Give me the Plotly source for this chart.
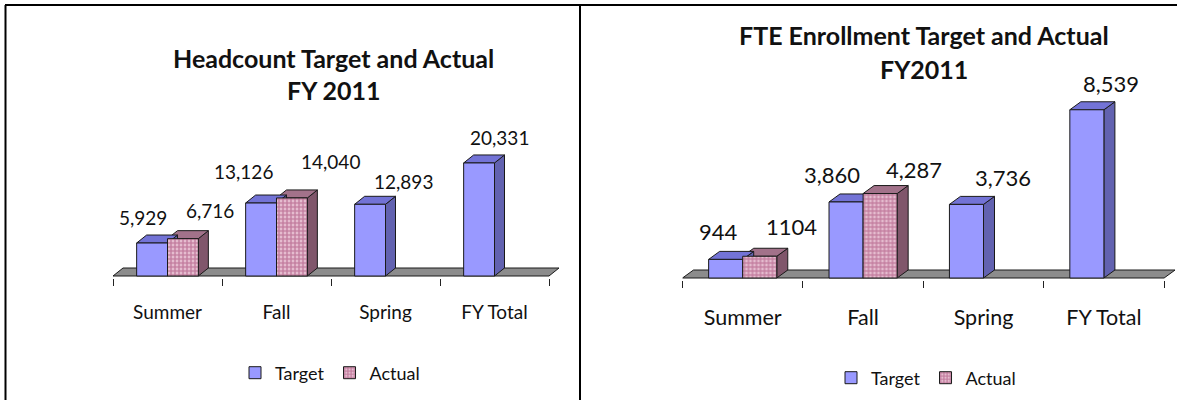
import plotly.graph_objects as go

# ---------------- data ----------------
categories = ["Summer", "Fall", "Spring", "FY Total"]
headcount_target = [5929, 13126, 12893, 20331]
headcount_actual = [6716, 14040, None, None]
fte_target = [944, 3860, 3736, 8539]
fte_actual = [1104, 4287, None, None]
headcount_target_text = ["5,929", "13,126", "12,893", "20,331"]
headcount_actual_text = ["6,716", "14,040", "", ""]
fte_target_text = ["944", "3,860", "3,736", "8,539"]
fte_actual_text = ["1104", "4,287", "", ""]

# ---------------- styling / layout ----------------
W, H = 1177, 400
FONT = "Lato"
BW = 0.283  # bar width in category units
T_FRONT, T_TOP, T_SIDE = "#9999FF", "#7373D6", "#6262B0"
A_FG, A_BG, A_TOP, A_SIDE = "#993366", "#F2D3E1", "#A2728A", "#80566B"
EDGE = "#1a1a1a"

panels = [
    dict(ax="", left=113, cat_w=109, base=276, ymax=25000, pxy=0.00556,
         dxp=10, dyp=8, target=headcount_target, actual=headcount_actual,
         ttext=headcount_target_text, atext=headcount_actual_text,
         tshift=[(-9.5, 26), (-17.5, 32), (33.5, 23), (20, 25)],
         ashift=[(27.5, 28), (38.5, 36), (0, 0), (0, 0)],
         title1="Headcount Target and Actual", title2="FY 2011",
         title_x=333, title_y=(58, 90), title_size=25,
         label_size=19, cat_size=19, ticklen=17,
         legend="legend", legend_x=330, legend_y=373),
    dict(ax="2", left=682.5, cat_w=120.4, base=278, ymax=10000, pxy=0.0197,
         dxp=11, dyp=8, target=fte_target, actual=fte_actual,
         ttext=fte_target_text, atext=fte_actual_text,
         tshift=[(-7.5, 28), (-13.8, 27), (37, 27), (24, 26)],
         ashift=[(32, 30), (33.6, 24), (0, 0), (0, 0)],
         title1="FTE Enrollment Target and Actual", title2="FY2011",
         title_x=924, title_y=(35, 69), title_size=25,
         label_size=22, cat_size=21.5, ticklen=18,
         legend="legend2", legend_x=926, legend_y=378),
]

fig = go.Figure()
shapes = []
annotations = []
layout_axes = {}

xs = list(range(len(categories)))

for p in panels:
    xa, ya = "x" + p["ax"], "y" + p["ax"]
    dx = p["dxp"] / p["cat_w"]
    dy = p["dyp"] / p["pxy"]
    pad = 2
    ymin = -pad / p["pxy"]
    x_lo, x_hi = -0.5, len(categories) - 0.5 + dx
    x1_px = p["left"] + (x_hi - x_lo) * p["cat_w"]
    bottom_px = p["base"] + pad
    top_px = p["base"] - p["ymax"] * p["pxy"]

    layout_axes["xaxis" + p["ax"]] = dict(
        domain=[p["left"] / W, x1_px / W], range=[x_lo, x_hi],
        anchor=ya, showline=False, showgrid=False, zeroline=False,
        tickmode="array", tickvals=xs, ticktext=categories,
        ticks="outside", ticklen=p["ticklen"], tickcolor="rgba(0,0,0,0)",
        tickfont=dict(family=FONT, size=p["cat_size"], color="#111"),
        minor=dict(tickmode="array", tickvals=[i - 0.5 for i in range(len(categories) + 1)],
                   ticks="outside", ticklen=7, tickcolor="#222", tickwidth=1, showgrid=False),
        fixedrange=True,
    )
    layout_axes["yaxis" + p["ax"]] = dict(
        domain=[1 - bottom_px / H, 1 - top_px / H], range=[ymin, p["ymax"]],
        anchor=xa, visible=False, fixedrange=True,
    )

    # floor
    shapes.append(dict(
        type="path", xref=xa, yref=ya, layer="below",
        path=f"M {x_lo},0 L {len(categories)-0.5},0 L {len(categories)-0.5+dx},{dy} L {x_lo+dx},{dy} Z",
        fillcolor="#8C8C8C", line=dict(color=EDGE, width=1)))

    # 3D faces (drawn below the front faces)
    for series, offs, top_c, side_c in ((p["actual"], 0.0, A_TOP, A_SIDE),
                                        (p["target"], -BW, T_TOP, T_SIDE)):
        for i, v in enumerate(series):
            if v is None:
                continue
            xl = i + offs
            xr = xl + BW
            shapes.append(dict(
                type="path", xref=xa, yref=ya, layer="below",
                path=f"M {xr},0 L {xr+dx},{dy} L {xr+dx},{v+dy} L {xr},{v} Z",
                fillcolor=side_c, line=dict(color=EDGE, width=1)))
            shapes.append(dict(
                type="path", xref=xa, yref=ya, layer="below",
                path=f"M {xl},{v} L {xl+dx},{v+dy} L {xr+dx},{v+dy} L {xr},{v} Z",
                fillcolor=top_c, line=dict(color=EDGE, width=1)))

    fig.add_trace(go.Bar(
        x=xs, y=p["target"], width=BW, offset=-BW, name="Target",
        xaxis=xa, yaxis=ya, legend=p["legend"], hoverinfo="skip",
        marker=dict(color=T_FRONT, line=dict(color=EDGE, width=1))))
    fig.add_trace(go.Bar(
        x=xs, y=p["actual"], width=BW, offset=0, name="Actual",
        xaxis=xa, yaxis=ya, legend=p["legend"], hoverinfo="skip",
        marker=dict(color=A_BG, line=dict(color=EDGE, width=1),
                    pattern=dict(shape=".", fgcolor=A_FG, bgcolor=A_BG,
                                 size=4, solidity=0.75))))

    # value labels
    for series, texts, shifts, offs in ((p["target"], p["ttext"], p["tshift"], -BW / 2),
                                        (p["actual"], p["atext"], p["ashift"], BW / 2)):
        for i, (v, t, s) in enumerate(zip(series, texts, shifts)):
            if v is None:
                continue
            annotations.append(dict(
                x=i + offs, y=v, xref=xa, yref=ya, text=t, showarrow=False,
                xshift=s[0], yshift=s[1], xanchor="center", yanchor="middle",
                font=dict(family=FONT, size=p["label_size"], color="#111")))

    # titles
    for txt, ty in ((p["title1"], p["title_y"][0]), (p["title2"], p["title_y"][1])):
        annotations.append(dict(
            x=p["title_x"] / W, y=1 - ty / H, xref="paper", yref="paper",
            text=f"<b>{txt}</b>", showarrow=False, xanchor="center", yanchor="middle",
            font=dict(family=FONT, size=p["title_size"], color="#111")))

    layout_axes[p["legend"]] = dict(
        orientation="h", x=p["legend_x"] / W, y=1 - p["legend_y"] / H,
        xanchor="center", yanchor="middle", bgcolor="rgba(0,0,0,0)",
        font=dict(family=FONT, size=18, color="#111"), itemwidth=30,
        traceorder="normal")

# panel borders
for x0, y0, x1, y1 in ((5, 5, W, 5), (5.5, 5, 5.5, H), (580, 5, 580, H)):
    shapes.append(dict(type="line", xref="paper", yref="paper",
                       x0=x0 / W, y0=1 - y0 / H, x1=x1 / W, y1=1 - y1 / H,
                       line=dict(color="black", width=2)))

fig.update_layout(
    width=W, height=H, margin=dict(l=0, r=0, t=0, b=0),
    paper_bgcolor="white", plot_bgcolor="rgba(0,0,0,0)",
    barmode="overlay", showlegend=True,
    shapes=shapes, annotations=annotations,
    font=dict(family=FONT),
    **layout_axes,
)

fig.write_html("out.html", config={"displayModeBar": False},
               post_script="document.body.style.margin='0';")
